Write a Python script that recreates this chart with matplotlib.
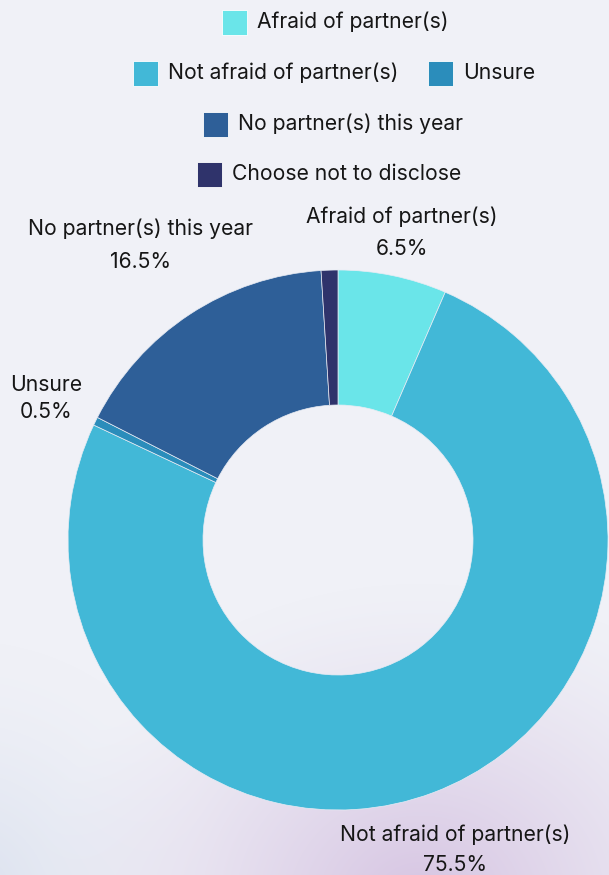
import numpy as np
import matplotlib.pyplot as plt
from matplotlib.patches import Rectangle

# survey answers, percent of respondents
categories = ['Afraid of partner(s)', 'Not afraid of partner(s)', 'Unsure',
              'No partner(s) this year', 'Choose not to disclose']
shares = [6.5, 75.5, 0.5, 16.5, 1.0]
colors = ['#6ae5e9', '#42b8d7', '#2b8dbb', '#2e5f98', '#2f336b']

W, H = 609, 875
plt.rcParams['font.family'] = ['Inter', 'DejaVu Sans']
txt = '#161616'
fs = 15.2

fig = plt.figure(figsize=(W / 100, H / 100), dpi=100)

# background with soft purple glow at the bottom
bg = fig.add_axes([0, 0, 1, 1])
yy, xx = np.mgrid[0:H, 0:W]
base = np.array([240, 241, 247]) / 255.0
purple = np.array([214, 196, 226]) / 255.0
blue = np.array([212, 220, 236]) / 255.0
d1 = np.sqrt((xx - 420) ** 2 + ((yy - 900) * 1.2) ** 2)
w1 = np.clip(1 - d1 / 380, 0, 1) ** 1.3
d2 = np.sqrt((xx + 40) ** 2 + (yy - 900) ** 2)
w2 = np.clip(1 - d2 / 260, 0, 1) ** 1.5 * 0.8
img = base[None, None, :] * np.ones((H, W, 1))
img = img * (1 - w2[..., None]) + blue * w2[..., None]
img = img * (1 - w1[..., None]) + purple * w1[..., None]
bg.imshow(img, extent=[0, W, H, 0], aspect='auto')
bg.set_xlim(0, W)
bg.set_ylim(H, 0)
bg.axis('off')

# legend, laid out in rows
legend_rows = [
    [(0, 222, 22)],
    [(1, 133, 73), (2, 428, 73)],
    [(3, 203, 124)],
    [(4, 197, 174)],
]
for row in legend_rows:
    for idx, x, y in row:
        bg.add_patch(Rectangle((x, y - 12.5), 25, 25, facecolor=colors[idx],
                               edgecolor='white', lw=0.6))
        bg.text(x + 35, y, categories[idx], fontsize=fs, color=txt,
                va='center', ha='left')

# donut
ax = fig.add_axes([(338 - 270) / W, (H - 810) / H, 540 / W, 540 / H])
ax.pie(shares, colors=colors, startangle=90, counterclock=False,
       wedgeprops=dict(width=0.5, edgecolor='#e8ecf4', linewidth=0.5))
ax.set_xlim(-1, 1)
ax.set_ylim(-1, 1)
ax.set_aspect('equal')
ax.axis('off')

# slice labels: name line and percent line
label_pos = {0: (402, 217, 249), 1: (455, 835, 865),
             2: (46, 385, 412), 3: (141, 229, 262)}
for idx, (x, y1, y2) in label_pos.items():
    bg.text(x, y1, categories[idx], fontsize=fs, color=txt,
            ha='center', va='center')
    bg.text(x, y2, '%.1f%%' % shares[idx], fontsize=fs, color=txt,
            ha='center', va='center')

fig.savefig('out.png', dpi=100)
